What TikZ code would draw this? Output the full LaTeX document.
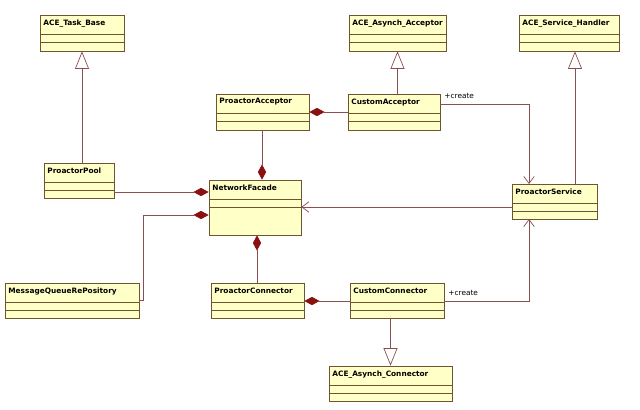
\documentclass[tikz,border=0pt]{standalone}
\usepackage{fontspec}
\setmainfont{DejaVu Sans}
\usetikzlibrary{arrows.meta,fit}
\definecolor{boxfill}{HTML}{FFFFC8}
\definecolor{boxline}{HTML}{6E5530}
\definecolor{conn}{HTML}{8A5050}
\definecolor{dia}{HTML}{8B1010}
\newcommand\umlcls[6]{%
  \path (#2,#3) coordinate (#1-a) (#4,#5) coordinate (#1-b);
  \node[cls, fit=(#1-a)(#1-b)] (#1) {};
  \node[anchor=north west, title] (#1-t) at (#1.north west) {#6};
  \draw[boxline] (#2,#3+19) -- (#4,#3+19) (#2,#3+27) -- (#4,#3+27);
}
\begin{document}
\begin{tikzpicture}[x=0.03cm,y=-0.03cm,
  cls/.style={draw=boxline, fill=boxfill, inner sep=0pt, line width=0.6pt},
  title/.style={font=\bfseries\fontsize{6.3}{7}\selectfont, inner xsep=3pt, inner ysep=4pt},
  lbl/.style={font=\fontsize{6.3}{7}\selectfont, inner sep=1pt},
  ln/.style={draw=conn, line width=0.6pt},
  gen/.style={ln, -{Triangle[open, length=15pt, width=12pt, fill=white]}},
  comp/.style={ln, -{Diamond[length=13pt, width=7pt, fill=dia, color=dia]}},
  dep/.style={ln, -{Straight Barb[length=6pt, width=9pt]}}]
\fill[white] (0,0) rectangle (640,409);
\useasboundingbox (0,0) rectangle (640,409);
\umlcls{tb}{40}{15}{124}{51}{ACE\_Task\_Base}
\umlcls{aa}{349}{15}{446}{51}{ACE\_Asynch\_Acceptor}
\umlcls{sh}{519}{15}{619}{51}{ACE\_Service\_Handler}
\umlcls{pa}{216}{94}{309}{130}{ProactorAcceptor}
\umlcls{ca}{348}{94}{440}{130}{CustomAcceptor}
\umlcls{pp}{44}{163}{114}{198}{ProactorPool}
\umlcls{nf}{209}{180}{301}{235}{NetworkFacade}
\umlcls{ps}{512}{184}{597}{219}{ProactorService}
\umlcls{mq}{5}{283}{139}{318}{MessageQueueRePository}
\umlcls{pc}{211}{283}{304}{318}{ProactorConnector}
\umlcls{cc}{350}{283}{444}{318}{CustomConnector}
\umlcls{ac}{329}{366}{452}{401}{ACE\_Asynch\_Connector}
% generalizations
\draw[gen] (pp.north -| tb.south) -- (tb.south);
\draw[gen] (ca.north -| aa.south) -- (aa.south);
\draw[gen] (575,184) coordinate (psg) -- (psg |- sh.south);
\draw[gen] (cc.south -| ac.north) -- (ac.north);
% compositions
\draw[comp] (ca.west |- 0,112) -- (pa.east |- 0,112);
\draw[comp] (262,130) coordinate (pab) -- (pab |- nf.north);
\draw[comp] (pp.east |- 0,192) -- (nf.west |- 0,192);
\draw[comp] (mq.east |- 0,300) -- (143,300) -- (143,215) -- (nf.west |- 0,215);
\draw[comp] (257,283) coordinate (pct) -- (pct |- nf.south);
\draw[comp] (cc.west |- 0,301) -- (pc.east |- 0,301);
% dependencies
\draw[dep] (ca.east |- 0,104) -- (529,104) -- (529,184);
\node[lbl, anchor=south west] (cr1) at (443,100) {+create};
\draw[dep] (cc.east |- 0,301) -- (529,301) -- (529,219);
\node[lbl, anchor=south west] (cr2) at (447,297) {+create};
\draw[dep] (ps.west |- 0,207) -- (nf.east |- 0,207);
\end{tikzpicture}
\end{document}
